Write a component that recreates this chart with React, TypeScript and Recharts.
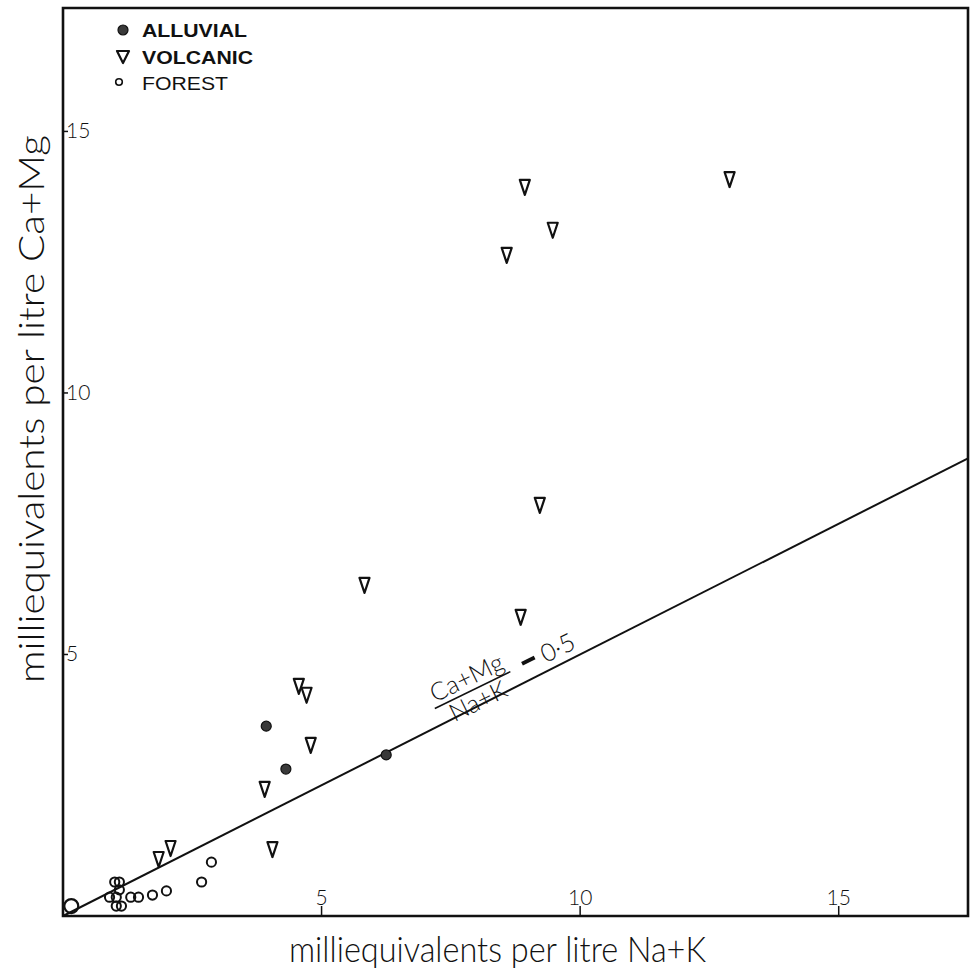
import {
  ReferenceArea,
  ReferenceDot,
  ReferenceLine,
  Legend,
  Scatter,
  ScatterChart,
  XAxis,
  YAxis,
} from "recharts";

// milliequivalents per litre
const alluvialNaK = [3.93, 4.31, 6.25];
const alluvialCaMg = [3.63, 2.81, 3.08];

const volcanicNaK = [12.89, 8.93, 9.47, 8.58, 9.22, 5.83, 8.85, 4.56, 4.71, 4.79, 3.9, 4.05, 2.08, 1.85];
const volcanicCaMg = [14.09, 13.94, 13.12, 12.64, 7.86, 6.33, 5.72, 4.4, 4.23, 3.27, 2.43, 1.28, 1.3, 1.09];

const forestNaK = [1.0, 1.09, 1.09, 0.9, 1.03, 1.03, 1.13, 1.31, 1.46, 1.73, 2.0, 2.68, 2.87];
const forestCaMg = [0.65, 0.65, 0.5, 0.36, 0.36, 0.19, 0.19, 0.36, 0.36, 0.4, 0.48, 0.65, 1.03];

// pooled forest samples drawn as the larger circle at the origin
const pooledNaK = [0.16];
const pooledCaMg = [0.19];

const xTicks = [5, 10, 15];
const yTicks = [5, 10, 15];
const X_MAX = 17.5;
const Y_MAX = 17.36;
const RATIO = 0.5;
const ratioLabelAt = { x: 7.92, y: 4.32 };

const zip = (xs: number[], ys: number[]) => xs.map((x, i) => ({ x, y: ys[i] }));

const INK = "#111";
const THIN = "Lato, 'Open Sans', 'DejaVu Sans', sans-serif";

const Triangle = (p: any) => {
  const { cx, cy } = p;
  return (
    <path
      d={`M${cx - 5},${cy - 7} L${cx + 5},${cy - 7} L${cx},${cy + 8} Z`}
      fill="#fff"
      stroke={INK}
      strokeWidth={2.2}
      strokeLinejoin="round"
    />
  );
};

const OpenCircle = (p: any) => (
  <circle cx={p.cx} cy={p.cy} r={4.6} fill="none" stroke={INK} strokeWidth={2} />
);

const BigCircle = (p: any) => (
  <circle cx={p.cx} cy={p.cy} r={7} fill="none" stroke={INK} strokeWidth={2.2} />
);

const FilledCircle = (p: any) => (
  <circle cx={p.cx} cy={p.cy} r={5} fill="#3a3a3a" stroke={INK} strokeWidth={1.2} />
);

const XTick = (p: any) => {
  const { x, y, payload } = p;
  return (
    <g>
      <line x1={x} x2={x} y1={y} y2={y - 10} stroke={INK} strokeWidth={1.5} />
      <text x={x} y={y - 11} textAnchor="middle" fontSize={21} fontWeight={300} fill={INK} fontFamily={THIN}>
        {payload.value}
      </text>
    </g>
  );
};

const YTick = (p: any) => {
  const { x, y, payload } = p;
  return (
    <g>
      <line x1={x} x2={x + 5} y1={y} y2={y} stroke={INK} strokeWidth={1.5} />
      <text x={x + 3} y={y + 7} fontSize={21} fontWeight={300} fill={INK} fontFamily={THIN}>
        {payload.value}
      </text>
    </g>
  );
};

const XTitle = (p: any) => {
  const { x, y, width } = p.viewBox;
  return (
    <text
      x={x + width / 2 - 18}
      y={y + 46}
      textAnchor="middle"
      fontSize={36}
      fontWeight={300}
      fill={INK}
      fontFamily={THIN}
      textLength={417}
      lengthAdjust="spacingAndGlyphs"
    >
      milliequivalents per litre Na+K
    </text>
  );
};

const YTitle = (p: any) => {
  const { x, y, height } = p.viewBox;
  return (
    <text
      transform={`translate(${x - 18},${y + height / 2 - 53}) rotate(-90)`}
      textAnchor="middle"
      fontSize={36}
      fontWeight={300}
      fill={INK}
      fontFamily={THIN}
      textLength={548}
      lengthAdjust="spacingAndGlyphs"
    >
      milliequivalents per litre Ca+Mg
    </text>
  );
};

const RatioLabel = (p: any) => {
  const { x, y } = p.viewBox;
  return (
    <g
      transform={`translate(${x},${y}) rotate(-26)`}
      fill={INK}
      fontFamily={THIN}
      fontWeight={300}
      fontSize={25}
    >
      <text x={0} y={-5} textAnchor="middle">Ca+Mg</text>
      <line x1={-42} x2={42} y1={0} y2={0} stroke={INK} strokeWidth={1.6} />
      <text x={0} y={21} textAnchor="middle">Na+K</text>
      <line x1={56} x2={70} y1={-2} y2={-2} stroke={INK} strokeWidth={4} />
      <text x={95} y={8} textAnchor="middle">0·5</text>
    </g>
  );
};

const LegendBox = () => (
  <svg width={220} height={90} style={{ display: "block" }}>
    <g fontFamily="'Liberation Sans', Arial, sans-serif" fontSize={19} fill={INK}>
      <circle cx={13} cy={16} r={5} fill="#3a3a3a" stroke={INK} strokeWidth={1.2} />
      <text x={32} y={23} fontWeight="bold" textLength={105} lengthAdjust="spacingAndGlyphs">ALLUVIAL</text>
      <path d="M7,37 L19,37 L13,49 Z" fill="#fff" stroke={INK} strokeWidth={2.2} strokeLinejoin="round" />
      <text x={32} y={50} fontWeight="bold" textLength={111} lengthAdjust="spacingAndGlyphs">VOLCANIC</text>
      <circle cx={9} cy={68} r={3.3} fill="none" stroke={INK} strokeWidth={1.6} />
      <text x={32} y={76} textLength={86} lengthAdjust="spacingAndGlyphs">FOREST</text>
    </g>
  </svg>
);

export default function App() {
  return (
    <div style={{ position: "absolute", left: 0, top: 0, background: "#fff" }}>
      <ScatterChart
        width={974}
        height={978}
        margin={{ top: 8, right: 6, bottom: 61, left: 62 }}
      >
        <XAxis
          type="number"
          dataKey="x"
          domain={[0, X_MAX]}
          ticks={xTicks}
          allowDataOverflow
          height={1}
          tickSize={0}
          tickMargin={0}
          tickLine={false}
          axisLine={false}
          tick={XTick}
          interval={0}
          label={{ content: XTitle }}
        />
        <YAxis
          type="number"
          dataKey="y"
          domain={[0, Y_MAX]}
          ticks={yTicks}
          allowDataOverflow
          width={1}
          tickSize={0}
          tickMargin={0}
          tickLine={false}
          axisLine={false}
          tick={YTick}
          interval={0}
          label={{ content: YTitle }}
        />
        <ReferenceArea
          x1={0}
          x2={X_MAX}
          y1={0}
          y2={Y_MAX}
          fill="none"
          fillOpacity={0}
          stroke={INK}
          strokeWidth={2.6}
        />
        <ReferenceLine
          segment={[
            { x: 0, y: 0 },
            { x: X_MAX, y: X_MAX * RATIO },
          ]}
          stroke={INK}
          strokeWidth={2}
        />
        <ReferenceDot
          x={ratioLabelAt.x}
          y={ratioLabelAt.y}
          r={0}
          fill="none"
          stroke="none"
          label={{ content: RatioLabel }}
        />
        <Legend
          layout="vertical"
          verticalAlign="middle"
          align="center"
          wrapperStyle={{ top: 14, left: 110, width: 220 }}
          content={LegendBox}
        />
        <Scatter name="FOREST" data={zip(forestNaK, forestCaMg)} shape={OpenCircle} isAnimationActive={false} />
        <Scatter name="FOREST pooled" data={zip(pooledNaK, pooledCaMg)} shape={BigCircle} isAnimationActive={false} />
        <Scatter name="VOLCANIC" data={zip(volcanicNaK, volcanicCaMg)} shape={Triangle} isAnimationActive={false} />
        <Scatter name="ALLUVIAL" data={zip(alluvialNaK, alluvialCaMg)} shape={FilledCircle} isAnimationActive={false} />
      </ScatterChart>
    </div>
  );
}
